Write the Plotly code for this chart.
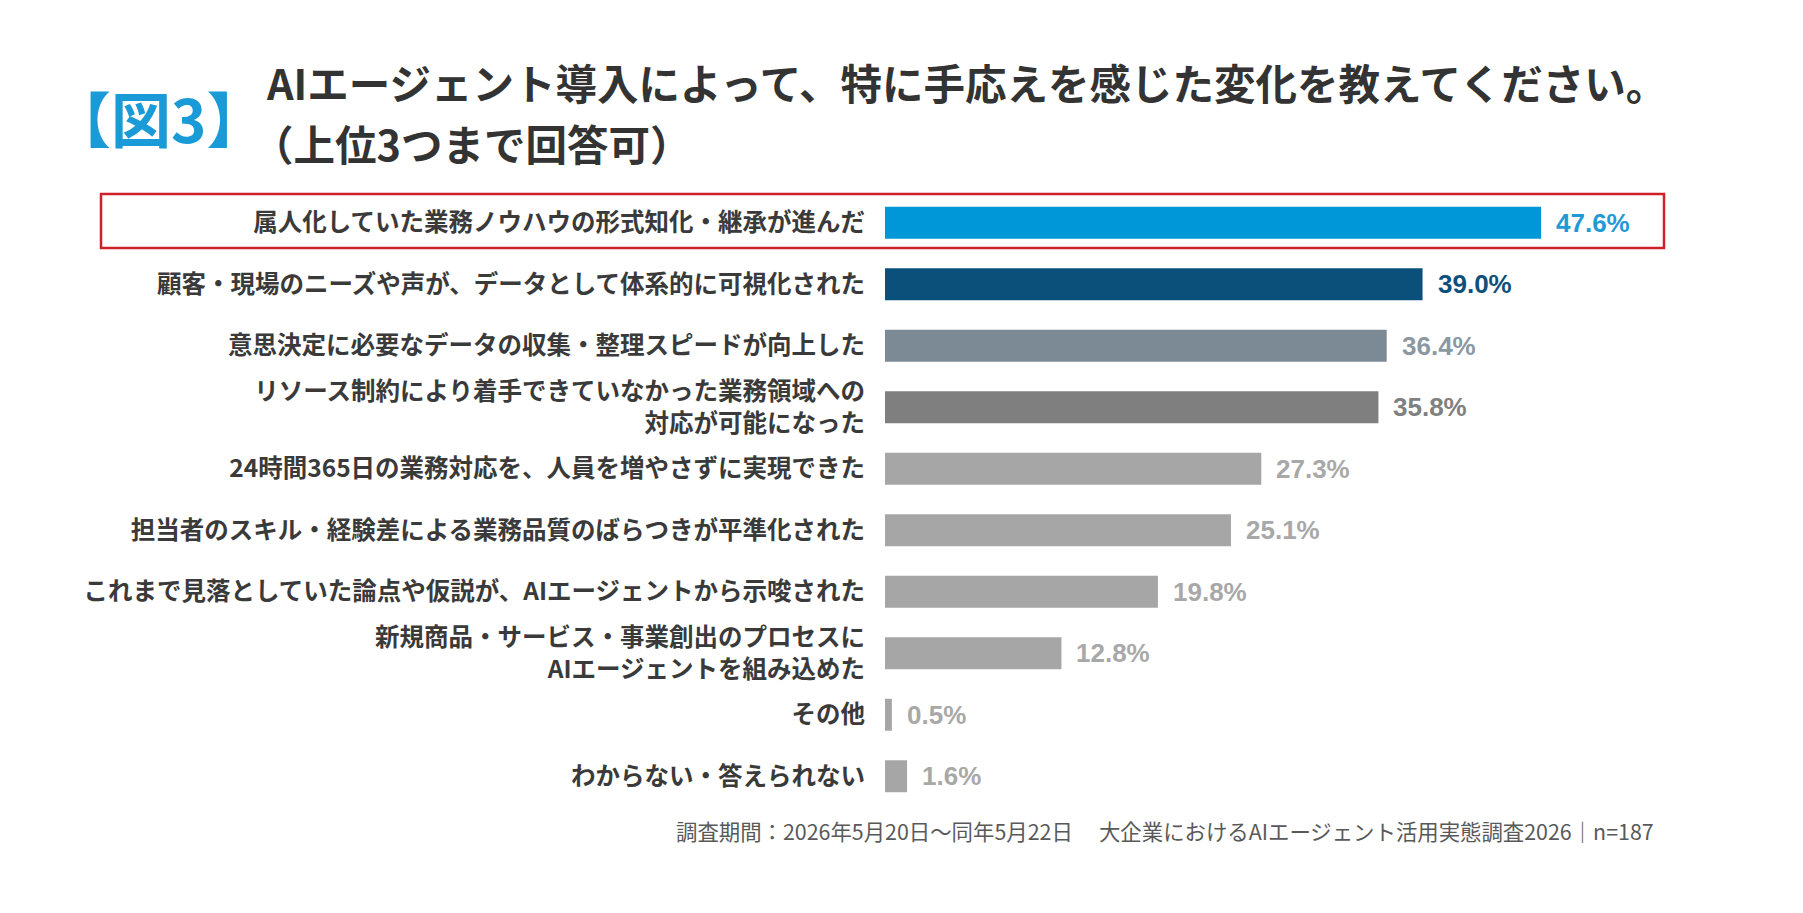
import plotly.graph_objects as go

categories = [
    "属人化していた業務ノウハウの形式知化・継承が進んだ",
    "顧客・現場のニーズや声が、データとして体系的に可視化された",
    "意思決定に必要なデータの収集・整理スピードが向上した",
    "リソース制約により着手できていなかった業務領域への<br>対応が可能になった",
    "24時間365日の業務対応を、人員を増やさずに実現できた",
    "担当者のスキル・経験差による業務品質のばらつきが平準化された",
    "これまで見落としていた論点や仮説が、AIエージェントから示唆された",
    "新規商品・サービス・事業創出のプロセスに<br>AIエージェントを組み込めた",
    "その他",
    "わからない・答えられない",
]
values = [47.6, 39.0, 36.4, 35.8, 27.3, 25.1, 19.8, 12.8, 0.5, 1.6]
bar_colors = ["#0097d8", "#0b4f7b", "#7b8a94", "#7f7f7f",
              "#a6a6a6", "#a6a6a6", "#a6a6a6", "#a6a6a6", "#a6a6a6", "#a6a6a6"]
text_colors = ["#1f9ad7", "#0f4f7b", "#8b98a2", "#808080",
               "#a8a8a8", "#a8a8a8", "#a8a8a8", "#a8a8a8", "#a8a8a8", "#a8a8a8"]

title_tag = "【図3】"
title_line1 = "AIエージェント導入によって、特に手応えを感じた変化を教えてください。"
title_line2 = "（上位3つまで回答可）"
footnote = "調査期間：2026年5月20日～同年5月22日　 大企業におけるAIエージェント活用実態調査2026｜n=187"

JP = "Noto Sans CJK JP"
NUM = "Liberation Sans, Arial"

W, H = 1803, 913
ML, MR, MT, MB = 885, 91, 192, 106
pw, ph = W - ML - MR, H - MT - MB


def px(x):
    return (x - ML) / pw


def py(y):
    return (H - MB - y) / ph


fig = go.Figure()
fig.add_trace(go.Bar(
    x=values, y=categories, orientation="h",
    marker=dict(color=bar_colors, line=dict(width=0)),
    hoverinfo="skip",
))

annotations = []
for c, v, col in zip(categories, values, text_colors):
    annotations.append(dict(
        x=v, y=c, xref="x", yref="y", text=f"{v:.1f}%",
        showarrow=False, xanchor="left", yanchor="middle", xshift=13,
        font=dict(family=NUM, size=26, color=col, weight="bold"),
    ))

annotations += [
    dict(x=px(49), y=py(116), xref="paper", yref="paper", text=title_tag, showarrow=False,
         xanchor="left", yanchor="middle",
         font=dict(family=JP, size=60, color="#1a9ad6", weight="bold")),
    dict(x=px(264), y=py(82), xref="paper", yref="paper", text=title_line1,
         showarrow=False, xanchor="left", yanchor="middle",
         font=dict(family=JP, size=41.5, color="#333333", weight="bold")),
    dict(x=px(250), y=py(143), xref="paper", yref="paper", text=title_line2,
         showarrow=False, xanchor="left", yanchor="middle",
         font=dict(family=JP, size=41.5, color="#333333", weight="bold")),
    dict(x=px(1656), y=py(830), xref="paper", yref="paper", text=footnote, showarrow=False,
         xanchor="right", yanchor="middle",
         font=dict(family=JP, size=21.4, color="#595959")),
]

fig.update_layout(
    width=W, height=H,
    margin=dict(l=ML, r=MR, t=MT, b=MB),
    paper_bgcolor="white", plot_bgcolor="white",
    bargap=0.48,
    showlegend=False,
    annotations=annotations,
    shapes=[dict(type="rect", xref="paper", yref="paper",
                 x0=px(101), x1=px(1664), y0=py(248), y1=py(194),
                 line=dict(color="#d0202a", width=2.5), fillcolor="rgba(0,0,0,0)")],
)
fig.update_xaxes(range=[0, 60], visible=False, fixedrange=True)
fig.update_yaxes(
    autorange="reversed", showgrid=False, zeroline=False, showline=False,
    ticks="outside", ticklen=14, tickcolor="rgba(0,0,0,0)",
    tickfont=dict(family=JP, size=24.5, color="#3a3a3a", weight="bold"),
    fixedrange=True,
)

fig.write_html("out.html", include_plotlyjs=True, config={"displayModeBar": False})
